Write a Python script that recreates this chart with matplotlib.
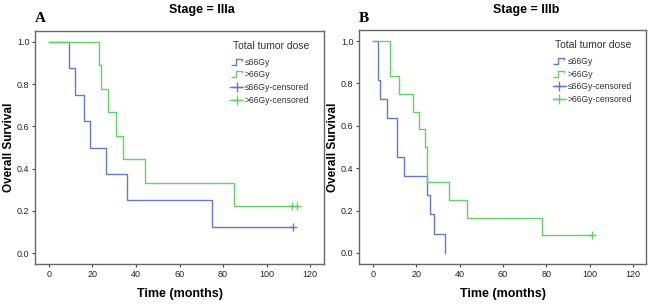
import matplotlib
matplotlib.use('Agg')
import matplotlib.pyplot as plt
from matplotlib.lines import Line2D
from matplotlib.path import Path

plt.rcParams['font.family'] = ['Liberation Sans', 'DejaVu Sans']

# Stage IIIa: event times (months) and survival after each step
a_low_t = [0, 9, 12, 16, 19, 26, 36, 75]
a_low_s = [1.0, 0.875, 0.75, 0.625, 0.5, 0.375, 0.25, 0.125]
a_low_end = 112
a_low_cens = [112]
a_high_t = [0, 23, 24, 27, 31, 34, 44, 85]
a_high_s = [1.0, 0.889, 0.778, 0.667, 0.556, 0.444, 0.333, 0.222]
a_high_end = 114
a_high_cens = [111.5, 113.8]

# Stage IIIb
b_low_t = [0, 2.3, 3.2, 6.3, 11.2, 14.2, 25.1, 26.2, 28.3, 33.2]
b_low_s = [1.0, 0.818, 0.727, 0.636, 0.455, 0.364, 0.273, 0.182, 0.091, 0.0]
b_low_end = 33.2
b_low_cens = []
b_high_t = [0, 8, 12, 18.2, 21.1, 24.2, 25.1, 35.2, 43.2, 78.2]
b_high_s = [1.0, 0.833, 0.75, 0.667, 0.583, 0.5, 0.333, 0.25, 0.167, 0.083]
b_high_end = 101.2
b_high_cens = [101.2]

xticks = [0, 20, 40, 60, 80, 100, 120]
yticks = [0.0, 0.2, 0.4, 0.6, 0.8, 1.0]
labels = ['\u226466Gy', '>66Gy', '\u226466Gy-censored', '>66Gy-censored']

blue = '#6679c6'
green = '#66d068'
W, H = 650, 308

fig = plt.figure(figsize=(6.5, 3.08), dpi=100)


def box(l, r, t, b):
    return [l / W, 1 - b / H, (r - l) / W, (b - t) / H]


def km(ax, t, s, end, cens, color):
    tt = list(t) + [end]
    ss = list(s) + [s[-1]]
    ax.step(tt, ss, where='post', color=color, lw=1.0)
    if cens:
        ax.plot(cens, [s[-1]] * len(cens), ls='none', marker='+', color=color,
                ms=6, mew=1.0)


step_marker = Path([(-1, -0.5), (-0.1, -0.5), (-0.1, 0.5), (0.8, 0.5), (0.8, 0.1)],
                   [Path.MOVETO, Path.LINETO, Path.LINETO, Path.LINETO, Path.LINETO])

panels = [
    (box(35, 324, 31, 264), 'Stage = IIIa', 202, 'A',
     (a_low_t, a_low_s, a_low_end, a_low_cens),
     (a_high_t, a_high_s, a_high_end, a_high_cens), (-6.4, 126.4)),
    (box(359, 646, 30, 264), 'Stage = IIIb', 526, 'B',
     (b_low_t, b_low_s, b_low_end, b_low_cens),
     (b_high_t, b_high_s, b_high_end, b_high_cens), (-6.5, 126)),
]

for rect, title, title_x, letter, low, high, xlim in panels:
    ax = fig.add_axes(rect)
    km(ax, *low, blue)
    km(ax, *high, green)
    ax.set_xlim(*xlim)
    ax.set_ylim(-0.052, 1.052)
    ax.set_xticks(xticks)
    ax.set_yticks(yticks)
    ax.set_yticklabels(['%.1f' % v for v in yticks])
    ax.tick_params(labelsize=6.5, length=2.5, width=0.8, color='#444444',
                   labelcolor='#222222', pad=1.5)
    for sp in ax.spines.values():
        sp.set_color('#666666')
        sp.set_linewidth(1.0)
    ax.set_xlabel('Time (months)', fontsize=9, fontweight='bold', labelpad=7)
    ax.set_ylabel('Overall Survival', fontsize=8.5, fontweight='bold', labelpad=1)
    fig.text(title_x / W, 1 - 10 / H, title, fontsize=9, fontweight='bold',
             ha='center', va='center')
    fig.text(rect[0], 1 - 18 / H, letter, fontsize=11, fontweight='bold',
             family='Liberation Serif', ha='left', va='center')

    ax.text(0.816, 0.935, 'Total tumor dose', transform=ax.transAxes,
            fontsize=7.5, color='#333333', ha='center', va='center')
    handles = [
        Line2D([], [], ls='none', marker=step_marker, ms=9, mew=1.0,
               color=blue, fillstyle='none'),
        Line2D([], [], ls='none', marker=step_marker, ms=9, mew=1.0,
               color=green, fillstyle='none'),
        Line2D([], [], ls='-', marker='+', ms=7, color=blue, lw=1.0),
        Line2D([], [], ls='-', marker='+', ms=7, color=green, lw=1.0),
    ]
    leg = ax.legend(handles, labels, loc='upper left',
                    bbox_to_anchor=(0.675, 0.885), frameon=False, fontsize=6.2,
                    handlelength=1.5, handletextpad=0.2,
                    labelspacing=0.42, borderpad=0, borderaxespad=0)
    for txt in leg.get_texts():
        txt.set_color('#333333')

fig.savefig('out.png', dpi=100)
